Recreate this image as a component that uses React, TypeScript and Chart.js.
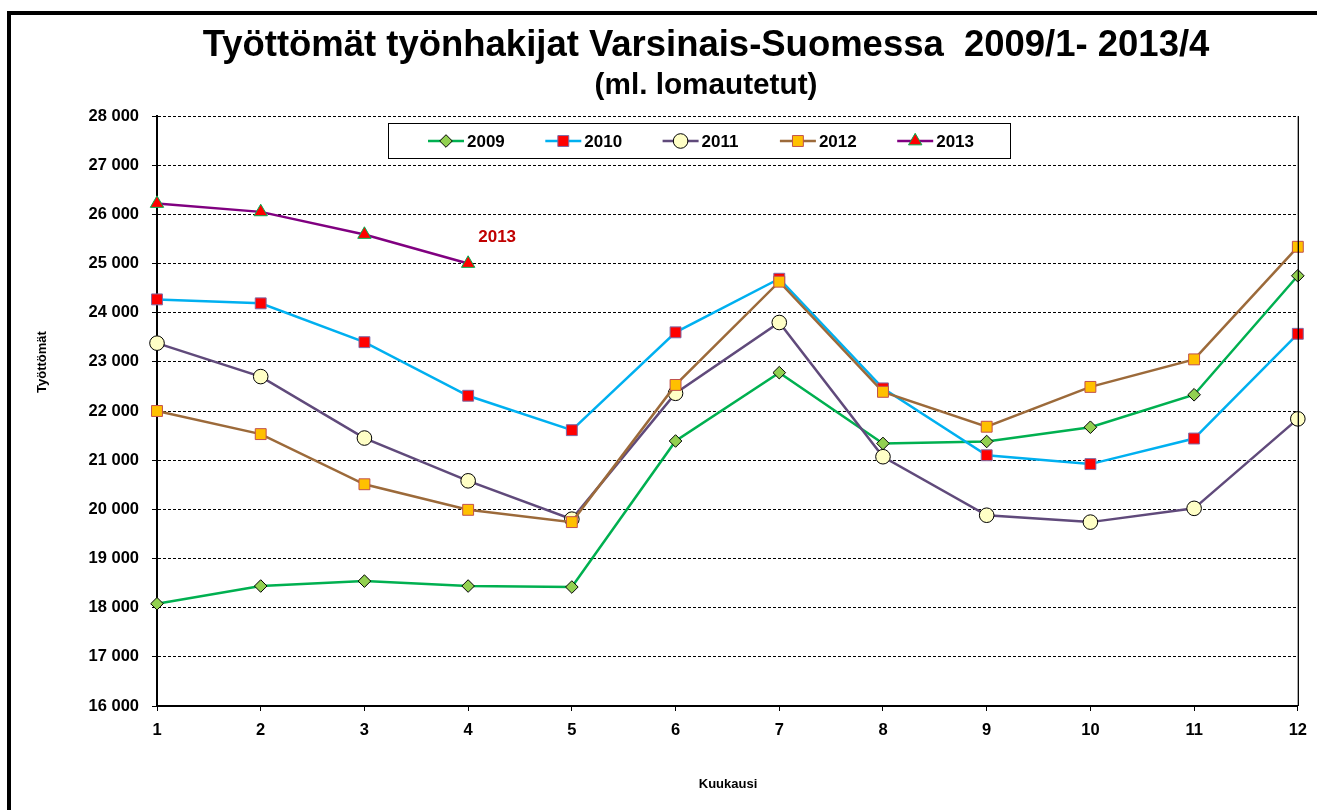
import React, { useEffect, useRef } from 'react';
import { Chart, registerables } from 'chart.js';

Chart.register(...registerables);

const FONT = "'Liberation Sans', Arial, sans-serif";

const TITLE = 'Työttömät työnhakijat Varsinais-Suomessa  2009/1- 2013/4';
const SUBTITLE = '(ml. lomautetut)';
const X_TITLE = 'Kuukausi';
const Y_TITLE = 'Työttömät';
const NOTE = '2013';

const months = ['1', '2', '3', '4', '5', '6', '7', '8', '9', '10', '11', '12'];
const seriesNames = ['2009', '2010', '2011', '2012', '2013'];

const y2009 = [18080, 18440, 18540, 18440, 18420, 21390, 22780, 21340, 21380, 21670, 22330, 24750];
const y2010 = [24270, 24190, 23400, 22310, 21610, 23600, 24690, 22460, 21100, 20920, 21440, 23570];
const y2011 = [23380, 22700, 21450, 20580, 19800, 22360, 23800, 21070, 19880, 19740, 20020, 21840];
const y2012 = [22000, 21530, 20510, 19990, 19740, 22530, 24630, 22390, 21680, 22490, 23050, 25340];
const y2013 = [26220, 26050, 25590, 25000];

const Y_MIN = 16000;
const Y_MAX = 28000;
const Y_STEP = 1000;

const seriesData = [y2009, y2010, y2011, y2012, y2013];

const styles = [
  { line: '#00B050', shape: 'rectRot', r: 6.3, fill: '#92D050', stroke: '#000000' },
  { line: '#00B0F0', shape: 'rect', r: 7.7, fill: '#FF0000', stroke: '#7E6AA5' },
  { line: '#604A7B', shape: 'circle', r: 7.3, fill: '#FFFFC6', stroke: '#000000' },
  { line: '#9C6A3A', shape: 'rect', r: 7.7, fill: '#FFC000', stroke: '#C0504D' },
  { line: '#800080', shape: 'triangle', r: 7.7, fill: '#FF0000', stroke: '#00B050' },
];

const fmt = (v: number) => String(v).replace(/\B(?=(\d{3})+(?!\d))/g, ' ');

function drawMarker(ctx: CanvasRenderingContext2D, shape: string, x: number, y: number, r: number, fill: string, stroke: string) {
  ctx.beginPath();
  if (shape === 'circle') {
    ctx.arc(x, y, r, 0, Math.PI * 2);
  } else if (shape === 'rect') {
    const s = r * Math.SQRT1_2;
    ctx.rect(x - s, y - s, 2 * s, 2 * s);
  } else if (shape === 'rectRot') {
    ctx.moveTo(x, y - r);
    ctx.lineTo(x + r, y);
    ctx.lineTo(x, y + r);
    ctx.lineTo(x - r, y);
    ctx.closePath();
  } else if (shape === 'triangle') {
    for (let k = 0; k < 3; k++) {
      const a = (k * 2 * Math.PI) / 3;
      const px = x + Math.sin(a) * r;
      const py = y - Math.cos(a) * r;
      if (k === 0) ctx.moveTo(px, py);
      else ctx.lineTo(px, py);
    }
    ctx.closePath();
  }
  ctx.fillStyle = fill;
  ctx.fill();
  ctx.lineWidth = 1;
  ctx.strokeStyle = stroke;
  ctx.stroke();
}

function fitFont(ctx: CanvasRenderingContext2D, text: string, target: number) {
  ctx.font = `bold 100px ${FONT}`;
  const w = ctx.measureText(text).width;
  return (100 * target) / w;
}

const decor = {
  id: 'decor',
  beforeDraw(chart: any) {
    const { ctx, width, height } = chart;
    ctx.save();
    ctx.fillStyle = '#ffffff';
    ctx.fillRect(0, 0, width, height);
    ctx.strokeStyle = '#000000';
    ctx.lineWidth = 4;
    ctx.beginPath();
    ctx.moveTo(9, height + 10);
    ctx.lineTo(9, 13);
    ctx.lineTo(width + 10, 13);
    ctx.stroke();

    ctx.fillStyle = '#000000';
    ctx.textAlign = 'center';
    ctx.textBaseline = 'alphabetic';
    const tSize = fitFont(ctx, TITLE, 1007);
    ctx.font = `bold ${tSize}px ${FONT}`;
    ctx.fillText(TITLE, 706, 56);
    const sSize = fitFont(ctx, SUBTITLE, 223);
    ctx.font = `bold ${sSize}px ${FONT}`;
    ctx.fillText(SUBTITLE, 706, 94);

    ctx.font = `bold 13px ${FONT}`;
    ctx.textBaseline = 'middle';
    ctx.fillText(X_TITLE, 728, 784);
    ctx.translate(42, 362);
    ctx.rotate(-Math.PI / 2);
    ctx.fillText(Y_TITLE, 0, 0);
    ctx.restore();
  },
  afterDraw(chart: any) {
    const { ctx, chartArea } = chart;
    const xs = chart.scales.x;
    const ys = chart.scales.y;
    ctx.save();
    ctx.strokeStyle = '#000000';
    ctx.lineWidth = 1.3;
    ctx.beginPath();
    ctx.moveTo(chartArea.right + 0.5, chartArea.top);
    ctx.lineTo(chartArea.right + 0.5, chartArea.bottom);
    ctx.stroke();

    const bx = chartArea.left + 231;
    const by = chartArea.top + 7;
    const bw = 622;
    const bh = 35;
    ctx.fillStyle = '#ffffff';
    ctx.fillRect(bx, by, bw, bh);
    ctx.lineWidth = 1;
    ctx.strokeStyle = '#000000';
    ctx.strokeRect(bx + 0.5, by + 0.5, bw, bh);
    const cy = by + 18;
    seriesNames.forEach((name, i) => {
      const st = styles[i];
      const x0 = bx + 40 + i * 117.3;
      ctx.strokeStyle = st.line;
      ctx.lineWidth = 2.5;
      ctx.beginPath();
      ctx.moveTo(x0, cy);
      ctx.lineTo(x0 + 36, cy);
      ctx.stroke();
      drawMarker(ctx, st.shape, x0 + 18, cy, st.r, st.fill, st.stroke);
      ctx.fillStyle = '#000000';
      ctx.font = `bold 17px ${FONT}`;
      ctx.textAlign = 'left';
      ctx.textBaseline = 'middle';
      ctx.fillText(name, x0 + 39, cy + 1);
    });

    ctx.fillStyle = '#C00000';
    ctx.font = `bold 17px ${FONT}`;
    ctx.textAlign = 'center';
    ctx.textBaseline = 'middle';
    ctx.fillText(NOTE, xs.getPixelForValue(3) + 29, ys.getPixelForValue(25530));
    ctx.restore();
  },
};

export default function App() {
  const ref = useRef<HTMLCanvasElement | null>(null);
  useEffect(() => {
    if (!ref.current) return;
    const tickFont = { family: FONT, size: 16.5, weight: 'bold' as const };
    const chart = new Chart(ref.current, {
      type: 'line',
      data: {
        labels: months,
        datasets: seriesNames.map((name, i) => ({
          label: name,
          data: seriesData[i],
          borderColor: styles[i].line,
          backgroundColor: styles[i].line,
          borderWidth: 2.5,
          tension: 0,
          pointStyle: styles[i].shape as any,
          pointRadius: styles[i].r,
          pointHoverRadius: styles[i].r,
          pointBackgroundColor: styles[i].fill,
          pointBorderColor: styles[i].stroke,
          pointBorderWidth: 1,
          order: seriesNames.length - 1 - i,
          clip: false as any,
          fill: false,
        })),
      },
      plugins: [decor],
      options: {
        responsive: false,
        animation: false,
        devicePixelRatio: 1,
        layout: { padding: { left: 0, top: 116, right: 16, bottom: 0 } },
        plugins: {
          legend: { display: false },
          title: { display: false },
          tooltip: { enabled: false },
        },
        scales: {
          x: {
            type: 'category',
            offset: false,
            grid: {
              display: true,
              drawOnChartArea: false,
              drawTicks: true,
              tickLength: 5,
              tickColor: '#000000',
              tickWidth: 1,
            },
            border: { display: true, color: '#000000', width: 2 },
            ticks: { color: '#000000', font: tickFont, padding: 10, maxRotation: 0, autoSkip: false },
            afterFit: (s: any) => {
              s.height = 104;
            },
          },
          y: {
            type: 'linear',
            min: Y_MIN,
            max: Y_MAX,
            ticks: {
              stepSize: Y_STEP,
              color: '#000000',
              font: tickFont,
              padding: 13,
              callback: (v: any) => fmt(Number(v)),
            },
            grid: {
              color: '#000000',
              lineWidth: 1,
              drawTicks: true,
              tickLength: 5,
              tickColor: '#000000',
              tickWidth: 1,
              tickBorderDash: [],
            },
            border: { display: true, color: '#000000', width: 2, dash: [3, 2] },
            afterFit: (s: any) => {
              s.width = 157;
            },
          },
        },
      },
    });
    return () => chart.destroy();
  }, []);
  return (
    <div style={{ position: 'absolute', left: 0, top: 0, width: 1317, height: 810, overflow: 'hidden' }}>
      <canvas ref={ref} width={1317} height={810} style={{ display: 'block', width: 1317, height: 810 }} />
    </div>
  );
}
